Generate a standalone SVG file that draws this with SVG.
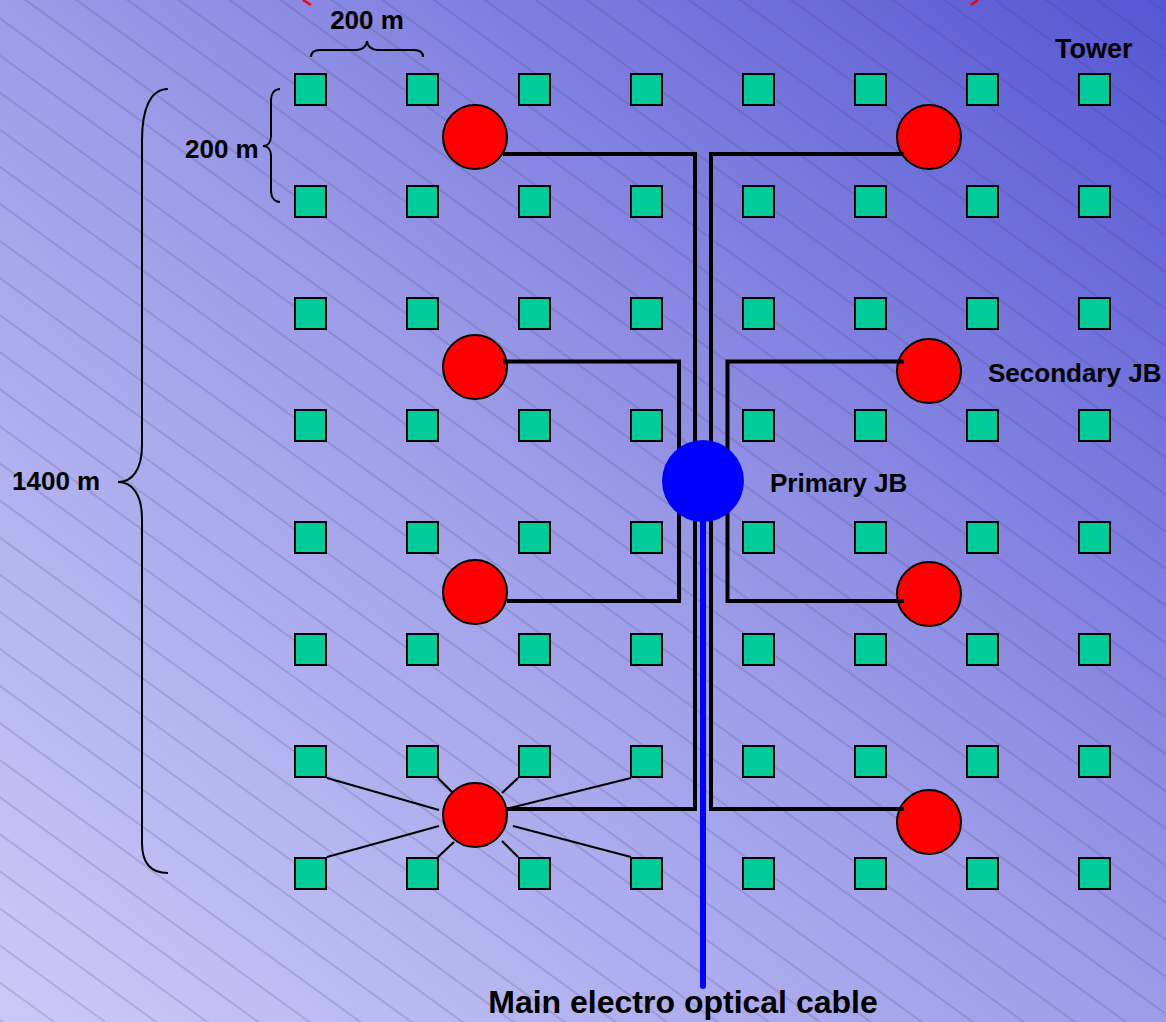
<svg xmlns="http://www.w3.org/2000/svg" width="1166" height="1022" viewBox="0 0 1166 1022">
  <defs>
    <linearGradient id="bg" x1="0" y1="1" x2="1" y2="0">
      <stop offset="0" stop-color="#cacaf8"/>
      <stop offset="0.5" stop-color="#9c9ce8"/>
      <stop offset="1" stop-color="#5656d3"/>
    </linearGradient>
    <pattern id="hatch" width="40" height="30" patternUnits="userSpaceOnUse" patternTransform="rotate(36)">
      <line x1="0" y1="15" x2="40" y2="15" stroke="#3a3a70" stroke-width="0.7" stroke-opacity="0.5"/>
    </pattern>
    <style>
      .tw { fill: #00cc99; stroke: #000; stroke-width: 2; }
      .sjb { fill: #ff0000; stroke: #000; stroke-width: 2; }
      .cab { fill: none; stroke: #000; stroke-width: 4; stroke-linejoin: miter; }
      .thin { stroke: #000; stroke-width: 2.2; }
      .brace { fill: none; stroke: #000; stroke-width: 2; }
      .lbl { font-family: "Liberation Sans", Arial, sans-serif; font-weight: bold; font-size: 26px; fill: #000; }
    </style>
  </defs>

  <rect x="0" y="0" width="1166" height="1022" fill="url(#bg)"/>
  <rect x="0" y="0" width="1166" height="1022" fill="url(#hatch)"/>

  <!-- red marks at top edge -->
  <line x1="303" y1="0" x2="311" y2="5" stroke="#ff0000" stroke-width="2.5"/>
  <line x1="971" y1="5" x2="978" y2="0" stroke="#ff0000" stroke-width="2.5"/>

  <!-- braces -->
  <g id="brace-top">
    <path class="brace" d="M311,57 C311,52 315,50 320,50 L357,50 C362,50 367,46 367,41 C367,46 372,50 377,50 L414,50 C419,50 423,52 423,57"/>
    <text class="lbl" x="367" y="29" text-anchor="middle">200 m</text>
  </g>
  <g id="brace-left-small">
    <path class="brace" d="M280,89 C274,89 271,94 271,100 L271,136 C271,142 268,146 263,146 C268,146 271,150 271,156 L271,191 C271,197 274,202 280,202"/>
    <text class="lbl" x="185" y="158">200 m</text>
  </g>
  <g id="brace-left-big">
    <path class="brace" d="M168,89 C150,89 142,110 142,140 L142,445 C142,470 132,482 118,482 C132,482 142,494 142,519 L142,843 C142,863 150,873 168,873"/>
    <text class="lbl" x="12" y="490">1400 m</text>
  </g>

  <!-- towers -->
  <g id="towers">
    <g id="row1"><rect class="tw" x="295" y="74" width="31" height="31"/><rect class="tw" x="407" y="74" width="31" height="31"/><rect class="tw" x="519" y="74" width="31" height="31"/><rect class="tw" x="631" y="74" width="31" height="31"/><rect class="tw" x="743" y="74" width="31" height="31"/><rect class="tw" x="855" y="74" width="31" height="31"/><rect class="tw" x="967" y="74" width="31" height="31"/><rect class="tw" x="1079" y="74" width="31" height="31"/></g>
    <g id="row2"><rect class="tw" x="295" y="186" width="31" height="31"/><rect class="tw" x="407" y="186" width="31" height="31"/><rect class="tw" x="519" y="186" width="31" height="31"/><rect class="tw" x="631" y="186" width="31" height="31"/><rect class="tw" x="743" y="186" width="31" height="31"/><rect class="tw" x="855" y="186" width="31" height="31"/><rect class="tw" x="967" y="186" width="31" height="31"/><rect class="tw" x="1079" y="186" width="31" height="31"/></g>
    <g id="row3"><rect class="tw" x="295" y="298" width="31" height="31"/><rect class="tw" x="407" y="298" width="31" height="31"/><rect class="tw" x="519" y="298" width="31" height="31"/><rect class="tw" x="631" y="298" width="31" height="31"/><rect class="tw" x="743" y="298" width="31" height="31"/><rect class="tw" x="855" y="298" width="31" height="31"/><rect class="tw" x="967" y="298" width="31" height="31"/><rect class="tw" x="1079" y="298" width="31" height="31"/></g>
    <g id="row4"><rect class="tw" x="295" y="410" width="31" height="31"/><rect class="tw" x="407" y="410" width="31" height="31"/><rect class="tw" x="519" y="410" width="31" height="31"/><rect class="tw" x="631" y="410" width="31" height="31"/><rect class="tw" x="743" y="410" width="31" height="31"/><rect class="tw" x="855" y="410" width="31" height="31"/><rect class="tw" x="967" y="410" width="31" height="31"/><rect class="tw" x="1079" y="410" width="31" height="31"/></g>
    <g id="row5"><rect class="tw" x="295" y="522" width="31" height="31"/><rect class="tw" x="407" y="522" width="31" height="31"/><rect class="tw" x="519" y="522" width="31" height="31"/><rect class="tw" x="631" y="522" width="31" height="31"/><rect class="tw" x="743" y="522" width="31" height="31"/><rect class="tw" x="855" y="522" width="31" height="31"/><rect class="tw" x="967" y="522" width="31" height="31"/><rect class="tw" x="1079" y="522" width="31" height="31"/></g>
    <g id="row6"><rect class="tw" x="295" y="634" width="31" height="31"/><rect class="tw" x="407" y="634" width="31" height="31"/><rect class="tw" x="519" y="634" width="31" height="31"/><rect class="tw" x="631" y="634" width="31" height="31"/><rect class="tw" x="743" y="634" width="31" height="31"/><rect class="tw" x="855" y="634" width="31" height="31"/><rect class="tw" x="967" y="634" width="31" height="31"/><rect class="tw" x="1079" y="634" width="31" height="31"/></g>
    <g id="row7"><rect class="tw" x="295" y="746" width="31" height="31"/><rect class="tw" x="407" y="746" width="31" height="31"/><rect class="tw" x="519" y="746" width="31" height="31"/><rect class="tw" x="631" y="746" width="31" height="31"/><rect class="tw" x="743" y="746" width="31" height="31"/><rect class="tw" x="855" y="746" width="31" height="31"/><rect class="tw" x="967" y="746" width="31" height="31"/><rect class="tw" x="1079" y="746" width="31" height="31"/></g>
    <g id="row8"><rect class="tw" x="295" y="858" width="31" height="31"/><rect class="tw" x="407" y="858" width="31" height="31"/><rect class="tw" x="519" y="858" width="31" height="31"/><rect class="tw" x="631" y="858" width="31" height="31"/><rect class="tw" x="743" y="858" width="31" height="31"/><rect class="tw" x="855" y="858" width="31" height="31"/><rect class="tw" x="967" y="858" width="31" height="31"/><rect class="tw" x="1079" y="858" width="31" height="31"/></g>
  </g>
  <text class="lbl" x="1055" y="58" style="font-size:27px">Tower</text>

  <!-- secondary junction boxes -->
  <g id="sjb-l1"><circle class="sjb" cx="475" cy="137" r="32"/></g>
  <g id="sjb-r1"><circle class="sjb" cx="929" cy="137" r="32"/></g>
  <g id="sjb-l2"><circle class="sjb" cx="475" cy="367" r="32"/></g>
  <g id="sjb-r2"><circle class="sjb" cx="929" cy="371" r="32"/></g>
  <g id="sjb-l3"><circle class="sjb" cx="475" cy="592" r="32"/></g>
  <g id="sjb-r3"><circle class="sjb" cx="929" cy="594" r="32"/></g>
  <g id="sjb-l4"><circle class="sjb" cx="475" cy="815" r="32"/></g>
  <g id="sjb-r4"><circle class="sjb" cx="929" cy="822" r="32"/></g>
  <text class="lbl" x="988" y="382">Secondary JB</text>

  <!-- connectors -->
  <g id="connectors">
    <path class="cab" d="M503,154 H695 V809 H507"/>
    <path class="cab" d="M904,154 H711 V809 H904"/>
    <path class="cab" d="M503,361.5 H679 V601 H507"/>
    <path class="cab" d="M904,361.5 H727.5 V601 H904"/>
    <line class="thin" x1="327" y1="778" x2="439" y2="810"/>
    <line class="thin" x1="327" y1="857" x2="439" y2="826"/>
    <line class="thin" x1="438" y1="778" x2="452" y2="792"/>
    <line class="thin" x1="438" y1="857" x2="454" y2="842"/>
    <line class="thin" x1="502" y1="793" x2="518" y2="778"/>
    <line class="thin" x1="502" y1="841" x2="518" y2="857"/>
    <line class="thin" x1="510" y1="808" x2="631" y2="778"/>
    <line class="thin" x1="513" y1="826" x2="631" y2="857"/>
    <line x1="703" y1="481" x2="703" y2="986" stroke="#0000ff" stroke-width="6" stroke-linecap="round"/>
  </g>

  <!-- primary junction box -->
  <g id="pjb"><circle cx="703" cy="481" r="41" fill="#0000ff"/></g>
  <text class="lbl" x="770" y="492">Primary JB</text>

  <text class="lbl" x="683" y="1013" text-anchor="middle" style="font-size:32px">Main electro optical cable</text>
</svg>
